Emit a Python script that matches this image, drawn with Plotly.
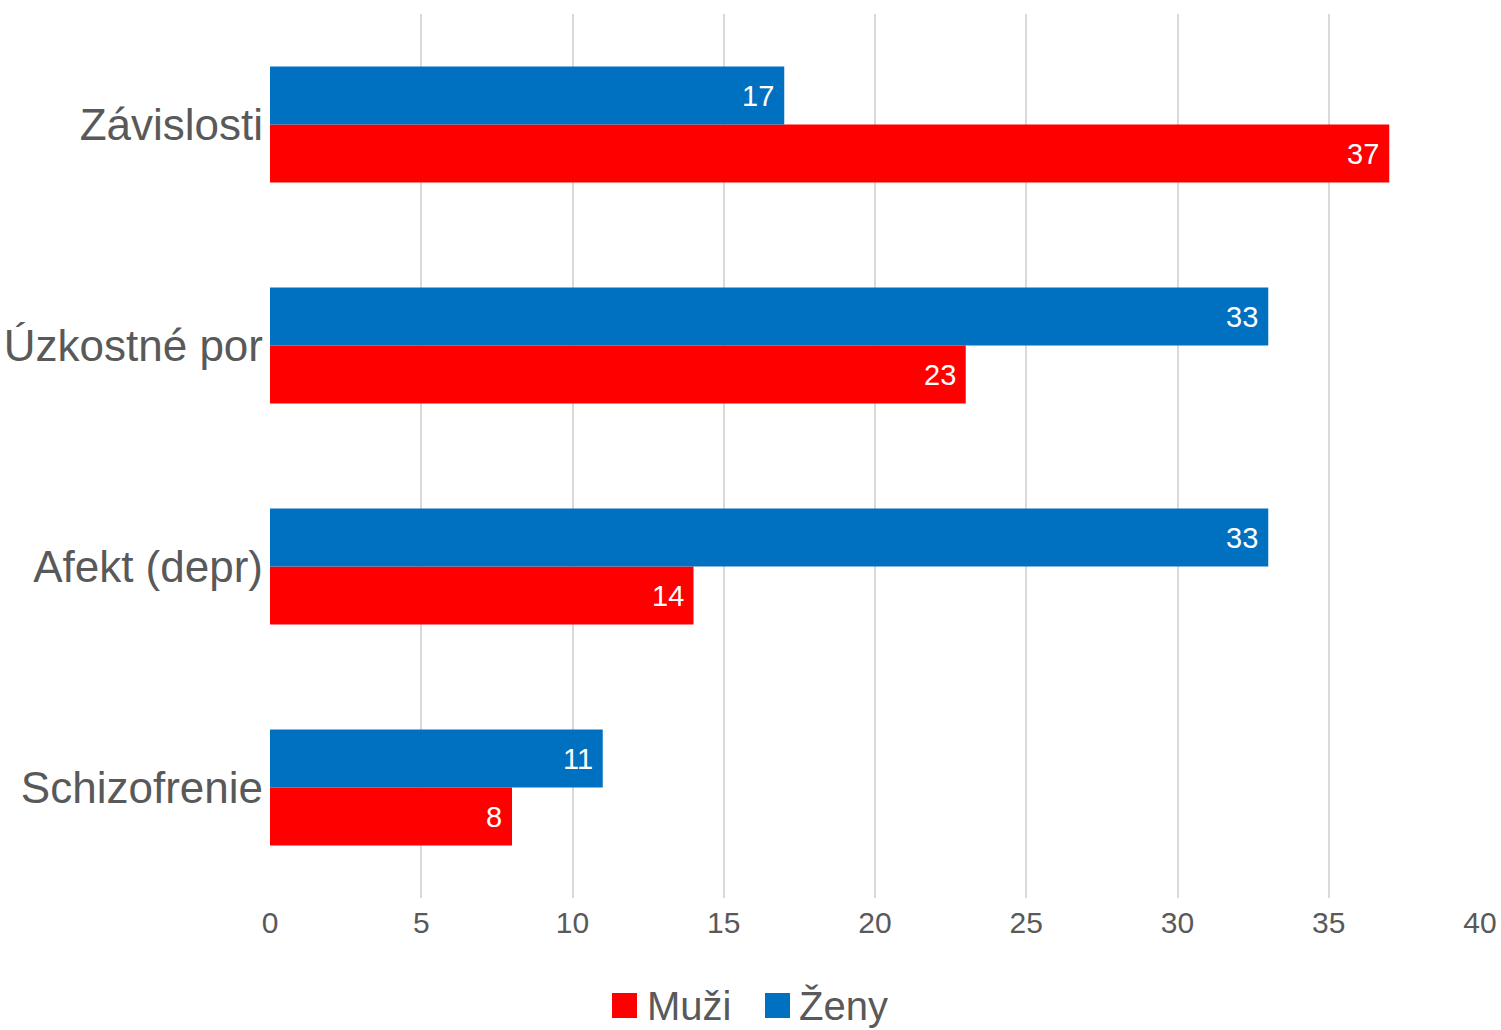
import plotly.graph_objects as go

categories = ["Schizofrenie", "Afekt (depr)", "Úzkostné por", "Závislosti"]
muzi = [8, 14, 23, 37]
zeny = [11, 33, 33, 17]
x_ticks = [0, 5, 10, 15, 20, 25, 30, 35, 40]
series_names = ["Muži", "Ženy"]
series_colors = ["#FF0000", "#0070C0"]

FONT = "Liberation Sans, Arial, sans-serif"
GRAY = "#595959"

# plot area geometry (pixels)
L, R, T, B = 270, 21, 14, 132
W, H = 1501, 1030
PW, PH = W - L - R, H - T - B

fig = go.Figure()
for name, vals, col in zip(series_names, [muzi, zeny], series_colors):
    fig.add_trace(go.Bar(
        y=categories, x=vals, name=name, orientation="h",
        marker=dict(color=col, line=dict(width=0)),
        showlegend=False, hoverinfo="x+y+name",
    ))

# data labels inside bar ends
for vals, yshift in [(muzi, -29), (zeny, 29)]:
    for c, v in zip(categories, vals):
        fig.add_annotation(
            x=v, y=c, xref="x", yref="y", text=str(v), showarrow=False,
            xanchor="right", yanchor="middle", xshift=-8, yshift=yshift,
            font=dict(color="white", size=29, family=FONT),
        )

# custom legend (large square swatches)
def px2paper_x(px):
    return (px - L) / PW

def px2paper_y(py):
    return (H - B - py) / PH

legend_items = [(612, 648), (765, 800)]
for (sx, tx), name, col in zip(legend_items, series_names, series_colors):
    fig.add_shape(
        type="rect", xref="paper", yref="paper",
        x0=px2paper_x(sx), x1=px2paper_x(sx + 25),
        y0=px2paper_y(1018), y1=px2paper_y(993),
        fillcolor=col, line=dict(width=0),
    )
    fig.add_annotation(
        x=px2paper_x(tx - 3), y=px2paper_y(1006), xref="paper", yref="paper",
        text=name, showarrow=False, xanchor="left", yanchor="middle",
        font=dict(size=40, color=GRAY, family=FONT),
    )

fig.update_layout(
    width=W, height=H,
    margin=dict(l=L, r=R, t=T, b=B),
    barmode="group", bargap=0.475, bargroupgap=0,
    plot_bgcolor="white", paper_bgcolor="white",
    font=dict(family=FONT, color=GRAY),
    showlegend=False,
    xaxis=dict(
        range=[0, 40], tickvals=x_ticks, ticktext=[str(t) for t in x_ticks],
        showgrid=True, gridcolor="#D9D9D9", gridwidth=2,
        zeroline=False, showline=False, ticks="",
        tickfont=dict(size=30, color=GRAY, family=FONT),
        ticklabelstandoff=4, automargin=False,
    ),
    yaxis=dict(
        showgrid=False, zeroline=False, showline=False, ticks="",
        tickfont=dict(size=44, color=GRAY, family=FONT),
        ticklabelstandoff=6, automargin=False,
    ),
)

fig.write_html("out.html")
